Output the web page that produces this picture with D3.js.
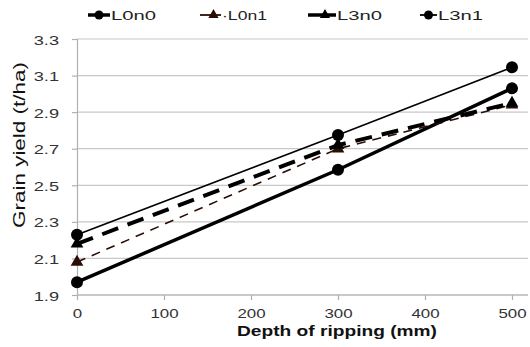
<!DOCTYPE html>
<html>
<head>
<meta charset="utf-8">
<script src="https://cdn.jsdelivr.net/npm/d3@7"></script>
<style>
  body { margin: 0; background: #fff; }
  text { font-family: "Liberation Sans", Arial, sans-serif; }
</style>
</head>
<body>
<div id="chart"></div>
<script>
// chart data
var depths = [0, 300, 500];
var xTicks = [0, 100, 200, 300, 400, 500];
var yTicks = [1.9, 2.1, 2.3, 2.5, 2.7, 2.9, 3.1, 3.3];
var seriesNames = ['L0n0', 'L0n1', 'L3n0', 'L3n1'];
var L0n0 = [1.97, 2.585, 3.03];
var L0n1 = [2.08, 2.70, 2.94];
var L3n0 = [2.18, 2.72, 2.95];
var L3n1 = [2.23, 2.775, 3.145];

var styles = {
  L0n0: {w: 3.5, dash: null, mark: 'circle', col: '#000'},
  L0n1: {w: 1.6, dash: '9,7', mark: 'triangle', col: '#2a0d05'},
  L3n0: {w: 4, dash: '17,10', mark: 'triangle', col: '#000'},
  L3n1: {w: 1.6, dash: null, mark: 'circle', col: '#000'}
};
var values = {L0n0: L0n0, L0n1: L0n1, L3n0: L3n0, L3n1: L3n1};

var width = 530, height = 347;
var svg = d3.select('#chart').append('svg')
  .attr('width', width).attr('height', height);

var x = d3.scaleLinear().domain([0, 500]).range([77, 512]);
var y = d3.scaleLinear().domain([1.9, 3.3]).range([295, 39]);
var plotRight = 528;

// gridlines
svg.append('g').selectAll('line').data(yTicks).enter().append('line')
  .attr('x1', x(0)).attr('x2', plotRight)
  .attr('y1', function(d){return y(d);}).attr('y2', function(d){return y(d);})
  .attr('stroke', '#c8c8c8').attr('stroke-width', 1.2);

// axes
var yAxis = svg.append('g').attr('transform', 'translate(' + x(0) + ',0)')
  .call(d3.axisLeft(y).tickValues(yTicks).tickFormat(d3.format('.1f')).tickSize(5));
var xAxis = svg.append('g').attr('transform', 'translate(0,' + y(1.9) + ')')
  .call(d3.axisBottom(x).tickValues(xTicks).tickSize(5));
xAxis.select('.domain').attr('d', 'M' + x(0) + ',0H' + plotRight);
[yAxis, xAxis].forEach(function(a){
  a.selectAll('.domain, line').attr('stroke', '#b0b0b0').attr('stroke-width', 1.2);
});
// tick labels look horizontally stretched in the original
yAxis.selectAll('text')
  .attr('x', 0).attr('dy', null).attr('y', 5)
  .attr('transform', 'translate(-18,0) scale(1.35,1)')
  .attr('font-size', 13.5).attr('fill', '#333')
  .attr('font-family', '"Liberation Sans", Arial, sans-serif');
xAxis.selectAll('text')
  .attr('dy', null).attr('y', 0)
  .attr('transform', 'translate(0,23) scale(1.25,1)')
  .attr('font-size', 13.5).attr('fill', '#333')
  .attr('font-family', '"Open Sans", sans-serif');

// lines
var line = d3.line()
  .x(function(d, i){return x(depths[i]);})
  .y(function(d){return y(d);});

var triangle = d3.symbol().type(d3.symbolTriangle).size(70);

seriesNames.forEach(function(name){
  var s = styles[name];
  svg.append('path').datum(values[name])
    .attr('d', line).attr('fill', 'none')
    .attr('stroke', s.col).attr('stroke-width', s.w)
    .attr('stroke-dasharray', s.dash);
  var g = svg.append('g');
  values[name].forEach(function(v, i){
    if (s.mark == 'circle') {
      g.append('circle').attr('cx', x(depths[i])).attr('cy', y(v)).attr('r', 6).attr('fill', s.col);
    } else {
      g.append('path').attr('d', triangle)
        .attr('transform', 'translate(' + x(depths[i]) + ',' + y(v) + ')')
        .attr('fill', s.col);
    }
  });
});

// legend
var legLine = [[88, 110], [200, 221], [308, 336], [420, 437]];
var leg = svg.append('g');
seriesNames.forEach(function(name, i){
  var s = styles[name];
  var x1 = legLine[i][0], x2 = legLine[i][1], ly = 15;
  var mx = (x1 + x2) / 2 + (s.mark == 'triangle' ? 3 : 0);
  leg.append('line').attr('x1', x1).attr('x2', x2).attr('y1', ly).attr('y2', ly)
    .attr('stroke', s.col).attr('stroke-width', s.w > 3 ? 3.5 : 1.8);
  if (s.mark == 'circle') {
    leg.append('circle').attr('cx', mx).attr('cy', ly).attr('r', 4.5).attr('fill', s.col);
  } else {
    leg.append('path').attr('d', d3.symbol().type(d3.symbolTriangle).size(45))
      .attr('transform', 'translate(' + mx + ',' + ly + ')').attr('fill', s.col);
  }
  var label = name == 'L0n1' ? '\u00b7' + name : name;
  leg.append('text').attr('x', x2 + 1).attr('y', ly + 5)
    .attr('font-family', '"Open Sans", sans-serif')
    .attr('font-size', 13.5).attr('fill', '#222')
    .attr('textLength', 45).attr('lengthAdjust', 'spacingAndGlyphs')
    .text(label);
});

// axis titles
svg.append('text').attr('x', 337).attr('y', 336).attr('text-anchor', 'middle')
  .attr('font-family', '"Open Sans", sans-serif').attr('font-weight', 'bold')
  .attr('font-size', 15).attr('fill', '#111')
  .attr('textLength', 200).attr('lengthAdjust', 'spacingAndGlyphs')
  .text('Depth of ripping (mm)');
svg.append('text').attr('transform', 'translate(25,145) rotate(-90)')
  .attr('text-anchor', 'middle').attr('font-size', 16).attr('fill', '#111')
  .attr('textLength', 166).attr('lengthAdjust', 'spacingAndGlyphs')
  .text('Grain yield (t/ha)');
</script>
</body>
</html>
